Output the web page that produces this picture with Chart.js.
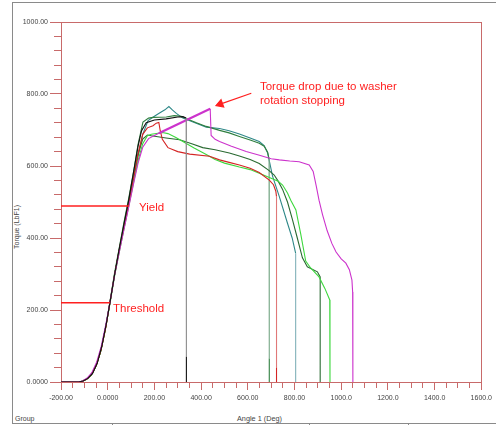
<!DOCTYPE html>
<html>
<head>
<meta charset="utf-8">
<script src="https://cdn.jsdelivr.net/npm/chart.js@4.4.1/dist/chart.umd.min.js"></script>
<style>
  html, body { margin: 0; padding: 0; background: #fff; }
  #wrap { position: relative; width: 496px; height: 425px; overflow: hidden; font-family: Arial, 'Liberation Sans', sans-serif; }
  #frame { position: absolute; left: 12px; top: 2px; right: -4px; height: 420px; border-left: 1px solid #8a8a8a; border-top: 1px solid #8a8a8a; border-bottom: 1px solid #8a8a8a; }
  .sep { position: absolute; top: 424px; width: 1px; height: 2px; background: #8a8a8a; }
  #ytitle { position: absolute; left: 17px; top: 227px; transform: translate(-50%, -50%) rotate(-90deg); font-size: 7px; line-height: 8px; color: #444; white-space: nowrap; }
  #xtitle { position: absolute; left: 237px; top: 415px; font-size: 7.3px; line-height: 8px; color: #444; white-space: nowrap; }
  #group { position: absolute; left: 15px; top: 415px; font-size: 7px; line-height: 8px; color: #444; }
  canvas { position: absolute; left: 0; top: 0; }
</style>
</head>
<body>
<div id="wrap">
  <div id="frame"></div>
  <div class="sep" style="left:112px"></div>
  <div class="sep" style="left:309px"></div>
  <div class="sep" style="left:408px"></div>
  <div id="ytitle">Torque (LbF1)</div>
  <div id="group">Group</div>
  <div id="xtitle">Angle 1 (Deg)</div>
  <canvas id="chart" width="496" height="425"></canvas>
</div>
<script>
// tick labels as shown on the screen
const xTickLabels = ['-200.00', '0.0000', '200.00', '400.00', '600.00', '800.00', '1000.0', '1200.0', '1400.0', '1600.0'];
const yTickLabels = ['0.0000', '200.00', '400.00', '600.00', '800.00', '1000.00'];

// curves [angle (deg), torque (lbf)]
const blackRun = [[-200,0],[-125,0],[-105,3],[-85,10],[-65,24],[-45,52],[-25,100],[-5,165],[10,222],[30,300],[50,372],[70,440],[90,505],[110,580],[130,655],[145,698],[165,720],[200,728],[250,731],[300,736],[322,737],[336,733],[337,70],[337,0]];
const tealRun = [[-200,0],[-130,0],[-110,2],[-90,8],[-70,20],[-50,46],[-30,85],[-10,148],[10,222],[30,300],[50,368],[70,432],[90,495],[110,562],[130,628],[150,688],[173,726],[200,738],[222,747],[245,756],[262,765],[278,755],[294,746],[322,733],[379,719],[422,708],[479,704],[520,698],[564,689],[610,678],[649,668],[670,657],[685,636],[706,572],[735,515],[770,441],[790,400],[805,357],[805,0]];
const forestRun = [[-200,0],[-125,0],[-105,3],[-85,10],[-65,24],[-45,52],[-25,100],[-5,165],[10,225],[30,305],[50,375],[70,445],[90,510],[110,582],[130,660],[151,722],[175,733],[194,735],[251,736],[285,740],[315,738],[351,728],[380,720],[422,710],[479,699],[520,692],[564,682],[610,672],[649,663],[670,655],[685,638],[691,620],[692,65],[692,0]];
const darkGreenRun = [[-200,0],[-130,0],[-110,2],[-90,8],[-70,20],[-50,46],[-30,85],[-10,148],[10,222],[30,300],[50,368],[70,432],[90,495],[110,565],[130,632],[150,675],[170,686],[187,684],[250,678],[308,673],[360,662],[407,651],[460,645],[521,636],[564,628],[610,618],[649,607],[690,588],[713,575],[730,558],[749,535],[770,500],[791,452],[812,400],[834,345],[855,320],[898,306],[910,292],[910,0]];
const redRun = [[-200,0],[-128,0],[-108,2],[-88,9],[-68,22],[-48,48],[-28,90],[-8,152],[10,222],[30,300],[50,368],[70,432],[90,495],[110,565],[130,635],[150,688],[170,706],[194,712],[208,719],[219,721],[225,698],[234,674],[258,651],[300,640],[351,633],[436,627],[479,617],[520,610],[564,603],[610,594],[649,582],[692,561],[710,548],[720,530],[723,515],[723,40],[723,0]];
const limeRun = [[-200,0],[-132,0],[-112,2],[-92,7],[-72,18],[-52,42],[-32,80],[-12,140],[10,218],[30,296],[50,362],[70,425],[90,488],[110,552],[130,615],[150,662],[170,684],[187,688],[215,691],[235,693],[258,690],[290,680],[322,668],[370,650],[422,632],[460,618],[500,608],[564,597],[610,590],[649,580],[700,566],[730,558],[749,547],[770,525],[784,505],[806,478],[827,410],[848,336],[870,316],[905,292],[930,260],[951,228],[952,0]];
const magentaRun = [[-200,0],[-128,0],[-108,3],[-88,11],[-68,26],[-48,54],[-28,98],[-8,160],[10,222],[30,298],[50,362],[70,425],[90,486],[110,548],[130,608],[150,652],[175,676],[200,685],[219,691],[439,759],[443,685],[460,674],[479,668],[530,655],[593,640],[650,630],[700,620],[735,617],[780,614],[820,612],[863,603],[880,585],[893,545],[905,505],[920,465],[940,420],[960,385],[978,361],[1000,342],[1020,330],[1035,312],[1046,283],[1049,250],[1050,0]];

// markers drawn on the picture
const yieldLine = [[-200,489],[91,489]];
const thresholdLine = [[-200,220],[9,220]];
const arrowLine = [[615,802],[482,772]];

const FONT = "Arial, 'Liberation Sans', sans-serif";
const AXIS = '#c86a6a';
const RED = '#ff1f1f';

// vertical drop part of a curve drawn in a lighter colour
function dropStyle(light) {
    return {
        borderColor: c => (Math.abs(c.p1.parsed.x - c.p0.parsed.x) <= 2 && c.p0.parsed.y - c.p1.parsed.y > 200) ? light : undefined
    };
}

function curve(data, color, light) {
    return {
        data: data,
        borderColor: color,
        borderWidth: 1.1,
        pointRadius: 0,
        segment: light ? dropStyle(light) : undefined
    };
}

const magenta = curve(magentaRun, '#cc33cc');
// the rising stretch before the washer stops is drawn bolder
magenta.segment = {
    borderWidth: c => (c.p0.parsed.x >= 219 && c.p1.parsed.x <= 439) ? 2.2 : undefined
};

const notes = {
    id: 'notes',
    afterDatasetsDraw(chart) {
        const { ctx, scales: { x, y } } = chart;
        ctx.save();
        ctx.fillStyle = RED;
        ctx.font = '11.5px ' + FONT;
        ctx.textBaseline = 'alphabetic';
        ctx.fillText('Yield', x.getPixelForValue(134), y.getPixelForValue(476));
        ctx.fillText('Threshold', x.getPixelForValue(23), y.getPixelForValue(195));
        ctx.fillText('Torque drop due to washer', x.getPixelForValue(652), y.getPixelForValue(812));
        ctx.fillText('rotation stopping', x.getPixelForValue(652), y.getPixelForValue(773));
        ctx.restore();
    }
};

const chart = new Chart(document.getElementById('chart').getContext('2d'), {
    type: 'line',
    data: {
        datasets: [
            { data: yieldLine, borderColor: RED, borderWidth: 1.5, pointRadius: 0 },
            { data: thresholdLine, borderColor: RED, borderWidth: 1.5, pointRadius: 0 },
            { data: arrowLine, borderColor: RED, backgroundColor: RED, borderWidth: 1.2,
              pointRadius: [0, 4.5], pointStyle: 'triangle', rotation: 250 },
            curve(blackRun, '#111111', '#8c8c8c'),
            magenta,
            curve(redRun, '#d42424', '#e07878'),
            curve(limeRun, '#3ed83e'),
            curve(darkGreenRun, '#2a6a32'),
            curve(forestRun, '#2f7f3f', '#78a888'),
            curve(tealRun, '#2e8888', '#80b0b8')
        ]
    },
    options: {
        responsive: false,
        animation: false,
        layout: { padding: { left: 0, right: 13, top: 22, bottom: 0 } },
        plugins: { legend: { display: false }, tooltip: { enabled: false } },
        scales: {
            x: {
                type: 'linear',
                min: -200,
                max: 1600,
                afterFit: s => { s.height = 43; },
                border: { color: AXIS },
                grid: {
                    color: c => (c.tick && c.tick.value === 1600) ? AXIS : 'rgba(0,0,0,0)',
                    tickColor: AXIS,
                    tickLength: 8,
                    tickBorderDash: c => (c.tick.value % 200 === 0) ? [] : [5, 20]
                },
                ticks: {
                    stepSize: 50,
                    autoSkip: false,
                    maxRotation: 0,
                    padding: 4,
                    color: '#444',
                    font: { size: 7, family: FONT },
                    callback: v => (v % 200 === 0) ? xTickLabels[(v + 200) / 200] : ''
                }
            },
            y: {
                min: 0,
                max: 1000,
                afterFit: s => { s.width = 61; },
                border: { color: AXIS },
                grid: {
                    color: c => (c.tick && c.tick.value === 1000) ? AXIS : 'rgba(0,0,0,0)',
                    tickColor: AXIS,
                    tickLength: 11,
                    tickBorderDash: c => (c.tick.value % 200 === 0) ? [] : [7, 4],
                    tickBorderDashOffset: c => (c.tick.value % 200 === 0) ? 0 : 7
                },
                ticks: {
                    stepSize: 40,
                    autoSkip: false,
                    padding: 2,
                    color: '#444',
                    font: { size: 7, family: FONT },
                    callback: v => (v % 200 === 0) ? yTickLabels[v / 200] : ''
                }
            }
        }
    },
    plugins: [notes]
});
</script>
</body>
</html>
